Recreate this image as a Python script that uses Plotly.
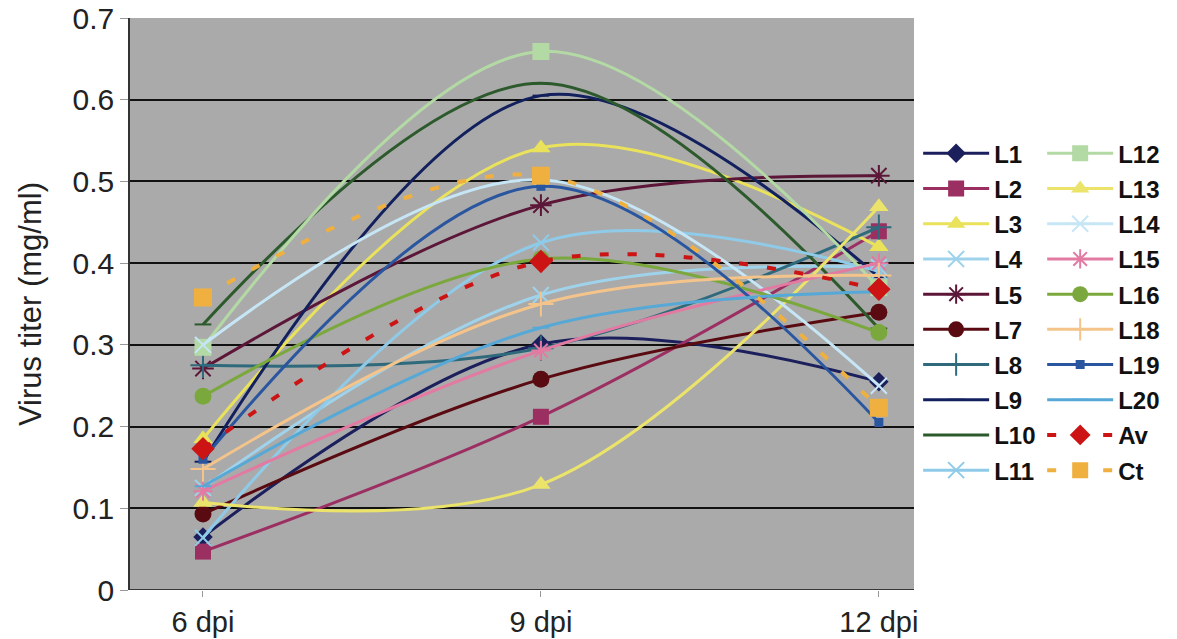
import plotly.graph_objects as go

categories = ["6 dpi", "9 dpi", "12 dpi"]
x_pos = [0, 1, 2]

series_names = ["L1", "L2", "L3", "L4", "L5", "L7", "L8", "L9", "L10", "L11",
                "L12", "L13", "L14", "L15", "L16", "L18", "L19", "L20", "Av", "Ct"]

L1 = [0.065, 0.301, 0.255]
L2 = [0.047, 0.212, 0.439]
L3 = [0.185, 0.541, 0.420]
L4 = [0.125, 0.361, 0.395]
L5 = [0.271, 0.471, 0.507]
L7 = [0.093, 0.258, 0.340]
L8 = [0.275, 0.296, 0.444]
L9 = [0.157, 0.605, 0.383]
L10 = [0.325, 0.620, 0.320]
L11 = [0.064, 0.425, 0.390]
L12 = [0.297, 0.659, 0.370]
L13 = [0.107, 0.129, 0.469]
L14 = [0.300, 0.502, 0.250]
L15 = [0.121, 0.293, 0.400]
L16 = [0.237, 0.405, 0.315]
L18 = [0.148, 0.350, 0.385]
L19 = [0.160, 0.494, 0.205]
L20 = [0.127, 0.321, 0.365]
Av = [0.173, 0.402, 0.368]
Ct = [0.358, 0.507, 0.223]

values = [L1, L2, L3, L4, L5, L7, L8, L9, L10, L11,
          L12, L13, L14, L15, L16, L18, L19, L20, Av, Ct]

colors = ["#1b1f5c", "#9c2f62", "#e9e25a", "#9fd3ec", "#5c1638", "#5a0b12",
          "#2f6a7c", "#13205e", "#2c5a2c", "#8fcbe8",
          "#b3d9a4", "#ece46a", "#c6e6f6", "#e27aa2", "#7ba83c", "#f4c48a",
          "#2a56a0", "#56a9d6", "#cc1414", "#f0b040"]
symbols = ["diamond", "square", "triangle-up", "x-thin", "asterisk", "circle",
           "cross-thin", "line-ew", "line-ew", "x-thin",
           "square", "triangle-up", "x-thin", "asterisk", "circle", "cross-thin",
           "square", "line-ew", "diamond", "square"]
sizes = [15, 16, 17, 16, 18, 17, 18, 12, 12, 16,
         17, 17, 16, 16, 17, 18, 9, 12, 18, 18]

FONT = "Liberation Sans, Arial, sans-serif"

fig = go.Figure()
for i, (name, vals) in enumerate(zip(series_names, values)):
    dashed = name in ("Av", "Ct")
    sym = symbols[i]
    open_sym = sym in ("x-thin", "asterisk", "cross-thin", "line-ew")
    fig.add_trace(go.Scatter(
        x=x_pos, y=vals, name=name, mode="lines+markers",
        line=dict(color=colors[i], width=4 if dashed else 3, shape="spline", smoothing=1.0,
                  dash="9px,19px" if dashed else "solid"),
        marker=dict(symbol=sym, size=sizes[i], color=colors[i],
                    line=dict(color=colors[i], width=2 if open_sym else 0)),
        legend="legend" if i < 10 else "legend2",
        legendgroup=name,
    ))

legend_common = dict(
    font=dict(family=FONT, size=24, color="#111111", weight="bold"),
    bgcolor="rgba(0,0,0,0)", itemwidth=66, tracegroupgap=1,
    xanchor="left", yanchor="top", itemsizing="trace",
)

fig.update_layout(
    width=1177, height=639,
    margin=dict(l=130, r=262, t=18, b=49),
    paper_bgcolor="white", plot_bgcolor="#aaaaaa",
    showlegend=True,
    legend=dict(x=1.004, y=0.802, **legend_common),
    legend2=dict(x=1.162, y=0.802, **legend_common),
    xaxis=dict(range=[-0.216, 2.104], tickvals=x_pos, ticktext=categories,
               showgrid=False, zeroline=False, showline=False, automargin=False,
               ticks="outside", ticklen=6, tickcolor="#999999",
               tickfont=dict(family=FONT, size=29, color="#222222")),
    yaxis=dict(range=[0, 0.7], dtick=0.1, tickformat="~g", automargin=False,
               showgrid=True, gridcolor="#111111", gridwidth=1.5,
               zeroline=False, showline=True, linecolor="#333333", linewidth=1.5,
               ticks="outside", ticklen=8, tickcolor="#999999",
               tickfont=dict(family=FONT, size=30, color="#222222"),
               title=dict(text="Virus titer (mg/ml)", standoff=22,
                          font=dict(family=FONT, size=31, color="#222222"))),
)
fig.add_hline(y=0, line_color="#111111", line_width=1.5)

fig.write_html("out.html")
